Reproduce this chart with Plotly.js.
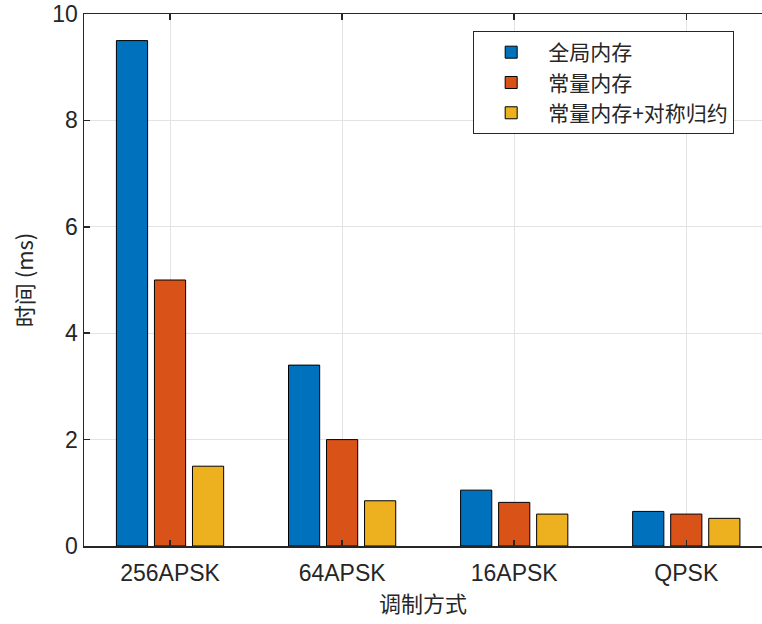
<!DOCTYPE html>
<html>
<head>
<meta charset="utf-8">
<script src="https://cdn.plot.ly/plotly-3.0.1.min.js"></script>
<style>html,body{margin:0;padding:0;background:#fff;}#chart{width:762px;height:624px;}</style>
</head>
<body>
<div id="chart"></div>
<script>
const categories = ['256APSK', '64APSK', '16APSK', 'QPSK'];
const seriesNames = ['全局内存', '常量内存', '常量内存+对称归约'];
const globalMem = [9.5, 3.4, 1.05, 0.65];
const constMem = [5.0, 2.0, 0.82, 0.6];
const constSym = [1.5, 0.85, 0.6, 0.52];
const yTicks = [0, 2, 4, 6, 8, 10];

const colors = ['#0072BD', '#D95319', '#EDB120'];
const values = [globalMem, constMem, constSym];

const traces = values.map((v, i) => ({
  type: 'bar',
  x: categories,
  y: v,
  name: seriesNames[i],
  marker: {color: colors[i], line: {color: '#000000', width: 1}}
}));

const latin = '"Liberation Sans", Arial, sans-serif';
const cjk = '"Noto Sans CJK SC", sans-serif';
const layout = {
  width: 762, height: 624,
  margin: {l: 84, r: 0, t: 14, b: 78},
  paper_bgcolor: '#ffffff', plot_bgcolor: '#ffffff',
  barmode: 'group', bargap: 0.337, bargroupgap: 0.18,
  showlegend: true,
  legend: {
    x: 0.574, y: 0.968, xanchor: 'left', yanchor: 'top',
    bgcolor: '#ffffff', bordercolor: '#262626', borderwidth: 1,
    font: {family: cjk, size: 21, color: '#262626'},
    itemwidth: 64, tracegroupgap: 0
  },
  xaxis: {
    type: 'category', range: [-0.5, 3.44],
    showline: true, linecolor: '#262626', linewidth: 1.5, mirror: 'ticks',
    ticks: 'inside', ticklen: 6, tickcolor: '#262626', tickwidth: 1.5,
    showgrid: true, gridcolor: '#e3e3e3', gridwidth: 1,
    tickfont: {family: latin, size: 23, color: '#262626'},
    ticklabelstandoff: 6,
    title: {text: '调制方式', font: {family: cjk, size: 22, color: '#262626'}, standoff: 6},
    zeroline: false
  },
  yaxis: {
    range: [0, 10], tickvals: yTicks,
    showline: true, linecolor: '#262626', linewidth: 1.5, mirror: false,
    ticks: 'inside', ticklen: 6, tickcolor: '#262626', tickwidth: 1.5,
    showgrid: true, gridcolor: '#e3e3e3', gridwidth: 1,
    tickfont: {family: latin, size: 23, color: '#262626'},
    title: {text: '时间 (ms)', font: {family: cjk, size: 22, color: '#262626'}, standoff: 12},
    zeroline: false
  }
};
Plotly.newPlot('chart', traces, layout, {staticPlot: true});
</script>
</body>
</html>
